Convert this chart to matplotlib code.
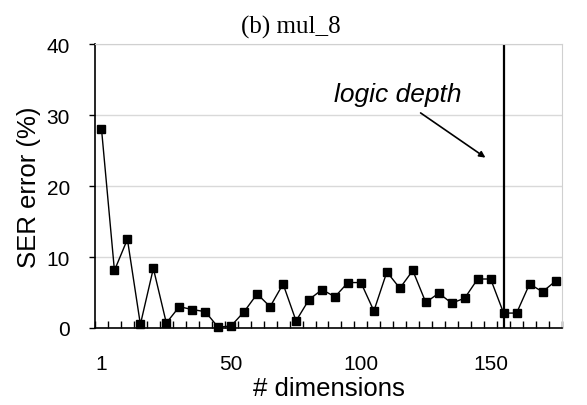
import matplotlib.pyplot as plt

# Datos (mul_8)
dimensions = [1, 5, 10, 15, 20, 25, 30, 35, 40, 45, 50, 55, 60, 65, 70, 75, 80, 85,
              90, 95, 100, 105, 110, 115, 120, 125, 130, 135, 140, 145, 150, 155,
              160, 165, 170, 175]
ser_error = [28.1, 8.1, 12.5, 0.5, 8.4, 0.7, 3.0, 2.6, 2.3, 0.1, 0.3, 2.3,
             4.8, 3.0, 6.2, 1.0, 4.0, 5.4, 4.4, 6.4, 6.4, 2.4, 7.9, 5.6,
             8.1, 3.6, 4.9, 3.5, 4.2, 6.9, 6.9, 2.1, 2.1, 6.2, 5.1, 6.6]
tick_labels = ["1", "50", "100", "150"]
logic_depth = 155

sans = "Liberation Sans"
serif = "Liberation Serif"

fig = plt.figure(figsize=(5.87, 4.06), dpi=100)
ax = fig.add_axes([0.1618, 0.1897, 0.7956, 0.6993])

idx = list(range(len(dimensions)))
ax.plot(idx, ser_error, color='black', linewidth=1, marker='s', markersize=5.5,
        clip_on=False, zorder=3)

# Linea vertical de logic depth
ld = dimensions.index(logic_depth)
ax.axvline(ld, ymin=0, ymax=0.993, color='black', linewidth=1.6, zorder=2)
ax.annotate('', xy=(ld - 1.4, 24.0), xytext=(ld - 6.4, 30.3),
            arrowprops=dict(arrowstyle='-|>', color='black', lw=1.2,
                            mutation_scale=9, shrinkA=0, shrinkB=0))
ax.text(ld - 8.15, 33.0, 'logic depth', fontsize=19, fontstyle='italic',
        family=sans, ha='center', va='center')

# Ejes
ax.set_xlim(-0.5, len(dimensions) - 0.5)
ax.set_ylim(0, 40)
ax.set_yticks([0, 10, 20, 30, 40])
ax.yaxis.grid(True, color='#d9d9d9', linewidth=1)
ax.set_axisbelow(True)

label_pos = [dimensions.index(int(t)) for t in tick_labels]
ax.set_xticks([i - 0.5 for i in range(len(dimensions) + 1)])
ax.set_xticklabels([])
ax.tick_params(axis='x', which='major', direction='in', length=5, width=1)
ax.set_xticks(label_pos, minor=True)
ax.set_xticklabels(tick_labels, minor=True)
ax.tick_params(axis='x', which='minor', length=0, pad=19, labelsize=15)
for lbl in ax.get_xticklabels(minor=True):
    lbl.set_family(sans)

ax.tick_params(axis='y', direction='out', length=4, width=1, pad=14, labelsize=15)
for lbl in ax.get_yticklabels():
    lbl.set_family(sans)

for s in ['top', 'right']:
    ax.spines[s].set_color('#d0d0d0')
for s in ['left', 'bottom']:
    ax.spines[s].set_color('black')
    ax.spines[s].set_linewidth(1.2)

ax.set_xlabel('# dimensions', fontsize=18.5, family=sans, labelpad=2)
ax.set_ylabel('SER error (%)', fontsize=18.5, family=sans, labelpad=4)

fig.text(291 / 587, 1 - 27 / 406, '(b) mul_8', fontsize=18, family=serif,
         ha='center', va='center')

plt.savefig('out.png', dpi=100)
